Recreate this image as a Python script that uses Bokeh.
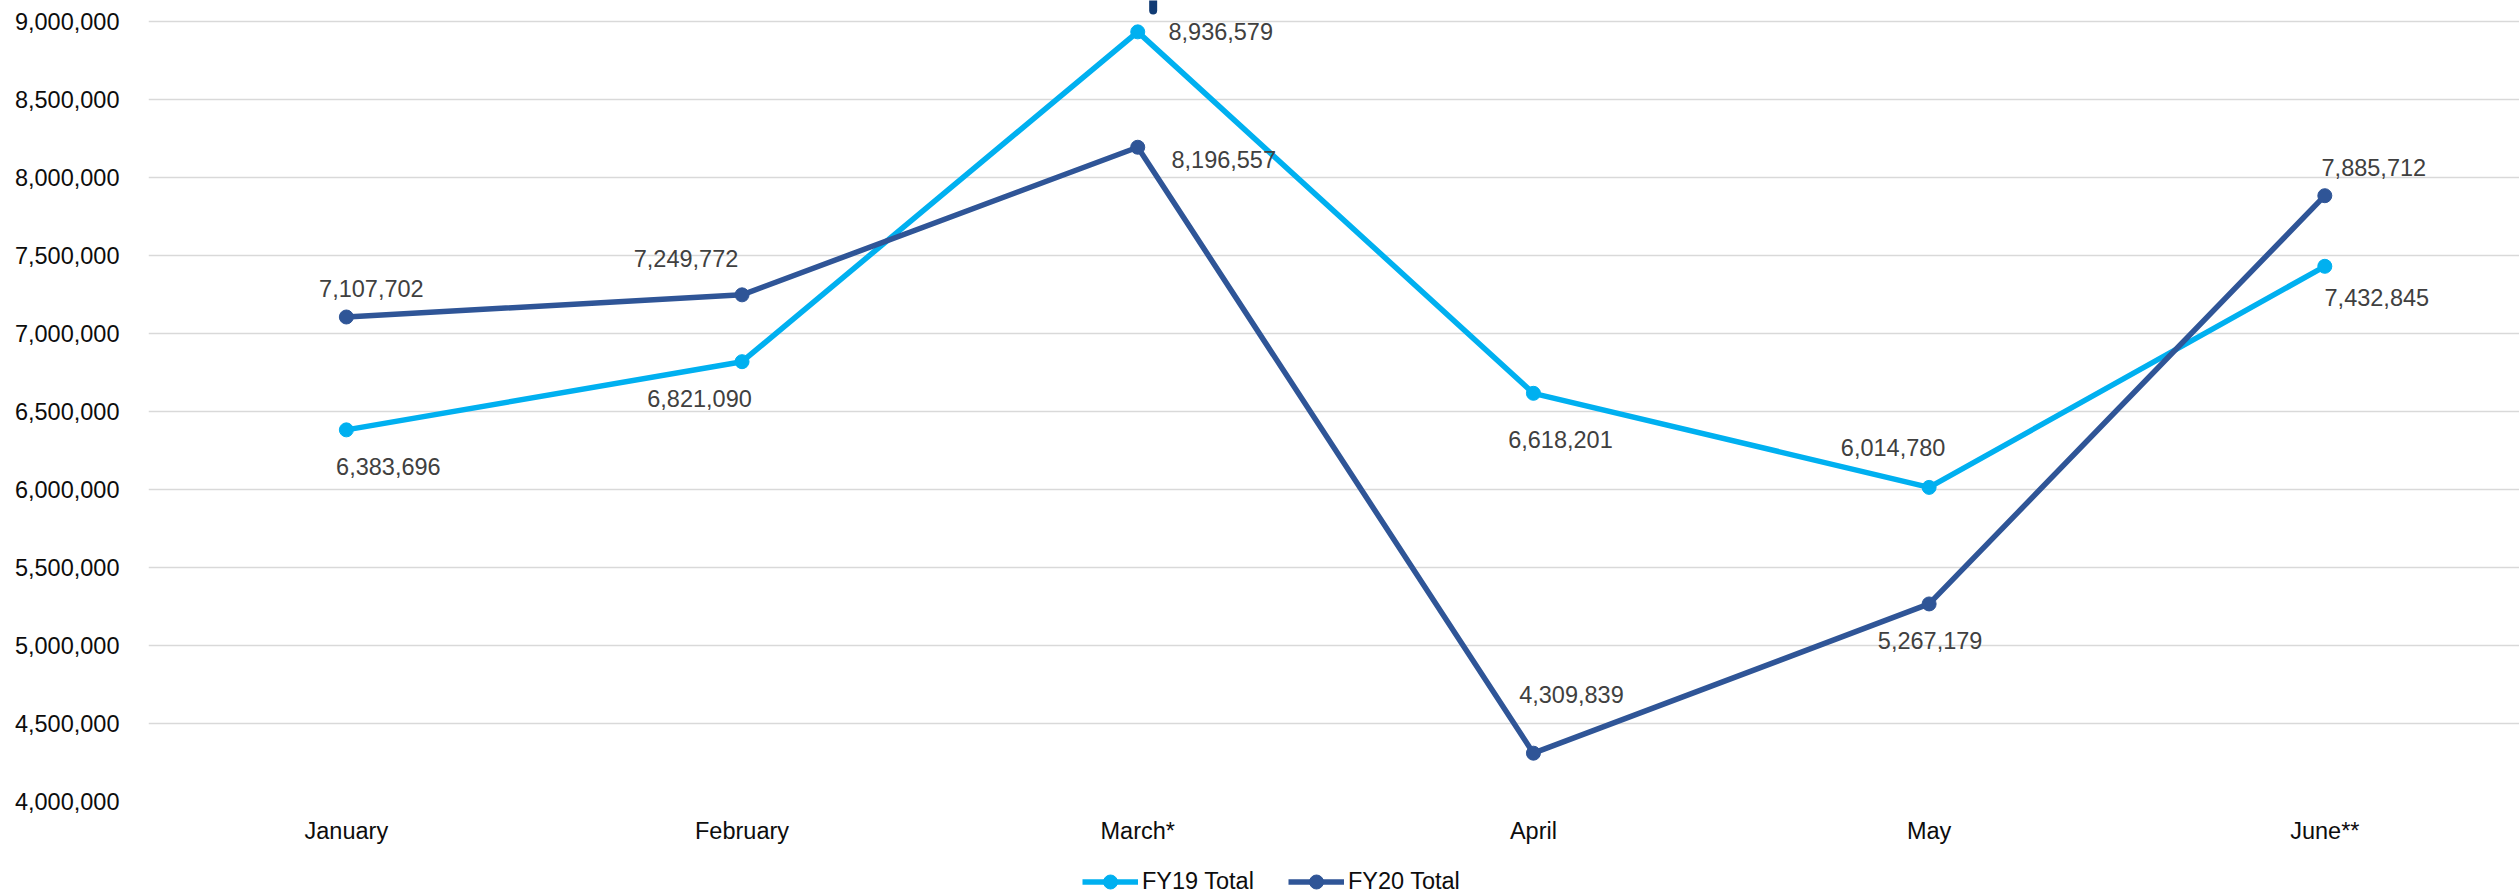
from bokeh.plotting import figure
from bokeh.layouts import column
from bokeh.models import (ColumnDataSource, Range1d, FixedTicker, NumeralTickFormatter,
                          Legend, LegendItem)
from bokeh.embed import file_html
from bokeh.resources import INLINE
from bokeh.core.properties import value

# ---- data ----
months = ["January", "February", "March*", "April", "May", "June**"]
fy19_total = [6383696, 6821090, 8936579, 6618201, 6014780, 7432845]
fy20_total = [7107702, 7249772, 8196557, 4309839, 5267179, 7885712]
y_ticks = [4000000, 4500000, 5000000, 5500000, 6000000, 6500000,
           7000000, 7500000, 8000000, 8500000, 9000000]
series_names = ["FY19 Total", "FY20 Total"]

# ---- styling / layout ----
FONT = "Liberation Sans"
C19 = "#00B0F0"
C20 = "#2F5597"
LABEL_COLOR = "#404040"
AXIS_COLOR = "#0d0d0d"

# data label offsets (screen px) per point
off19 = [(42, 37), (-42.5, 37), (83, 0), (27, 46), (-36, -40), (52, 31)]
off20 = [(25, -28), (-56, -36), (86, 12), (38, -59), (1, 36.5), (49, -28)]

x_idx = list(range(len(months)))

p = figure(frame_width=2371, frame_height=801,
           x_range=Range1d(-0.5, 5.492), y_range=Range1d(4000000, 9137800),
           output_backend="svg", toolbar_location=None,
           min_border_left=148, min_border_right=0, min_border_top=0,
           min_border_bottom=55)
p.outline_line_color = None
p.background_fill_color = "white"
p.border_fill_color = "white"

# axes
p.xaxis.ticker = FixedTicker(ticks=x_idx)
p.xaxis.major_label_overrides = {i: m for i, m in enumerate(months)}
p.yaxis.ticker = FixedTicker(ticks=y_ticks)
p.yaxis.formatter = NumeralTickFormatter(format="0,0")
for ax in (p.xaxis[0], p.yaxis[0]):
    ax.axis_line_color = None
    ax.major_tick_line_color = None
    ax.minor_tick_line_color = None
    ax.major_tick_out = 0
    ax.major_tick_in = 0
    ax.major_label_text_font = FONT
    ax.major_label_text_font_size = "23.5px"
    ax.major_label_text_color = AXIS_COLOR
p.yaxis.major_label_standoff = 29
p.xaxis.major_label_standoff = 16

p.xgrid.grid_line_color = None
p.ygrid.grid_line_color = "#D9D9D9"
p.ygrid.grid_line_width = 1.6

# lines
src19 = ColumnDataSource(dict(x=x_idx, y=fy19_total,
                              lab=[f"{v:,}" for v in fy19_total],
                              dx=[o[0] for o in off19], dy=[o[1] for o in off19]))
src20 = ColumnDataSource(dict(x=x_idx, y=fy20_total,
                              lab=[f"{v:,}" for v in fy20_total],
                              dx=[o[0] for o in off20], dy=[o[1] for o in off20]))

p.line("x", "y", source=src19, line_color=C19, line_width=5.5, line_join="round")
p.scatter("x", "y", source=src19, size=14, fill_color=C19, line_color=C19)
p.line("x", "y", source=src20, line_color=C20, line_width=5.5, line_join="round")
p.scatter("x", "y", source=src20, size=14, fill_color=C20, line_color=C20)

for src in (src19, src20):
    p.text("x", "y", text="lab", source=src, x_offset="dx", y_offset="dy",
           text_font=value(FONT), text_font_size="23.5px", text_color=LABEL_COLOR,
           text_align="center", text_baseline="middle")

# small clipped mark at top near March
p.segment(x0=[2.039], y0=[9300000], x1=[2.039], y1=[9074000],
          line_color="#113B74", line_width=8, line_cap="round")

# ---- legend strip below the chart (series drawn out of view, legend only) ----
leg = figure(width=2519, height=39, x_range=Range1d(100, 101), y_range=Range1d(0, 1),
             x_axis_type=None, y_axis_type=None, output_backend="svg",
             toolbar_location=None, min_border=0)
leg.outline_line_color = None
leg.xgrid.grid_line_color = None
leg.ygrid.grid_line_color = None
leg.border_fill_color = "white"
items = []
for name, col, src in zip(series_names, [C19, C20], [src19, src20]):
    rl = leg.line("x", "y", source=src, line_color=col, line_width=5.5)
    rs = leg.scatter("x", "y", source=src, size=14, fill_color=col, line_color=col)
    items.append(LegendItem(label=name, renderers=[rl, rs]))
legend = Legend(items=items, orientation="horizontal", location=(934, -4),
                glyph_width=56, glyph_height=35, label_standoff=4, spacing=34,
                padding=0, margin=0, border_line_color=None,
                background_fill_alpha=0,
                label_text_font=FONT, label_text_font_size="23.5px",
                label_text_color=AXIS_COLOR)
leg.add_layout(legend, "center")

layout = column(p, leg, spacing=0)
open("out.html", "w").write(file_html(layout, INLINE))
